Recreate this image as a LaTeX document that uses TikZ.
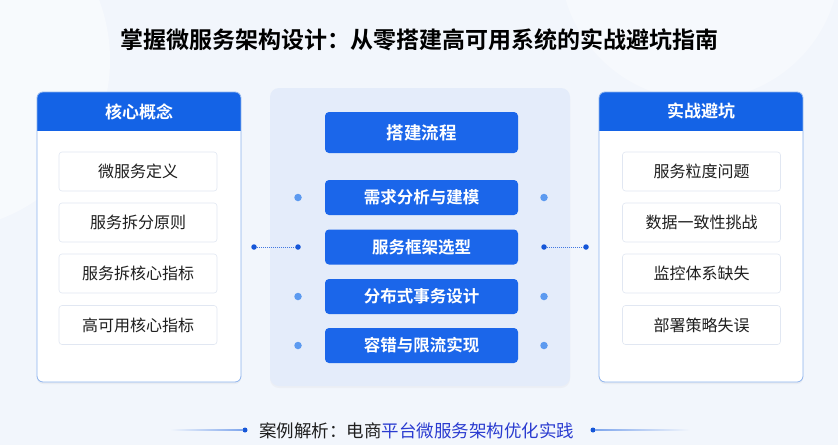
\documentclass[tikz,border=0pt]{standalone}
\usepackage{fontspec}
\setmainfont{Noto Sans CJK SC}[BoldFont={Noto Sans CJK SC Bold}]
\usetikzlibrary{shadows}
\definecolor{bg}{HTML}{F2F6FC}
\definecolor{hblue}{HTML}{1463E6}
\definecolor{sblue}{HTML}{1B66EA}
\definecolor{pborder}{HTML}{8DB3EE}
\definecolor{cpanel}{HTML}{E4ECFA}
\definecolor{ibord}{HTML}{E1E7F2}
\definecolor{dlight}{HTML}{5C9AF0}
\definecolor{ddark}{HTML}{1556D8}
\definecolor{txt}{HTML}{1E1E1E}
\definecolor{casebl}{HTML}{2A3BD0}
\definecolor{lineb}{HTML}{7FA6EC}
\begin{document}
\begin{tikzpicture}[x=1pt,y=-1pt,
  titletext/.style={font=\bfseries\fontsize{23}{23}\selectfont, text=black, inner sep=0pt},
  htext/.style={font=\bfseries\fontsize{17}{17}\selectfont, text=white, inner sep=0pt},
  item/.style={draw=ibord, line width=0.6pt, fill=white, rounded corners=3pt, minimum width=158pt, minimum height=39pt, font=\fontsize{16}{16}\selectfont, text=txt, inner sep=0pt},
  stepbox/.style={fill=sblue, rounded corners=4pt, minimum width=193pt, minimum height=35pt, text=white, font=\bfseries\fontsize{16.5}{16.5}\selectfont, inner sep=0pt},
  headbox/.style={stepbox, minimum height=41pt, font=\bfseries\fontsize{17.5}{17.5}\selectfont},
  dotl/.style={circle, fill=dlight, minimum size=7.5pt, inner sep=0pt},
  dotd/.style={circle, fill=ddark, minimum size=5.5pt, inner sep=0pt},
  dotline/.style={ddark!80, line width=0.6pt, dash pattern=on 1pt off 1pt},
  panelfill/.style={fill=white, rounded corners=6pt, drop shadow={opacity=0.08, shadow xshift=0pt, shadow yshift=-2pt}},
  panelborder/.style={draw=pborder, line width=0.8pt, rounded corners=6pt}
]
% background
\fill[bg] (0,0) rectangle (838,445);
\useasboundingbox (0,0) rectangle (838,445);
\fill[white, opacity=0.45] (-60,60) circle (170pt);
\fill[white, opacity=0.35] (700,-40) circle (140pt);

% title
\node[titletext] (title) at (419,40) {掌握微服务架构设计：从零搭建高可用系统的实战避坑指南};

% left panel
\path[panelfill] (37,92) rectangle (241,382);
\begin{scope}
  \clip[rounded corners=6pt] (37,92) rectangle (241,382);
  \fill[hblue] (37,92) rectangle (241,131);
\end{scope}
\path[panelborder] (37,92) rectangle (241,382);
\node[htext] (Lh) at (139,111.5) {核心概念};
\node[item] (L1) at (138,171.5) {微服务定义};
\node[item] (L2) at (138,222.5) {服务拆分原则};
\node[item] (L3) at (138,273.5) {服务拆核心指标};
\node[item] (L4) at (138,325) {高可用核心指标};

% right panel
\path[panelfill] (599,92) rectangle (803,382);
\begin{scope}
  \clip[rounded corners=6pt] (599,92) rectangle (803,382);
  \fill[hblue] (599,92) rectangle (803,131);
\end{scope}
\path[panelborder] (599,92) rectangle (803,382);
\node[htext] (Rh) at (701,111.5) {实战避坑};
\node[item] (R1) at (701.5,171.5) {服务粒度问题};
\node[item] (R2) at (701.5,222.5) {数据一致性挑战};
\node[item] (R3) at (701.5,273.5) {监控体系缺失};
\node[item] (R4) at (701.5,325) {部署策略失误};

% center panel
\path[fill=cpanel, rounded corners=9pt, drop shadow={opacity=0.05, shadow xshift=0pt, shadow yshift=-2pt}] (270,88) rectangle (570,386);
\node[headbox] (Ch) at (421.5,132.5) {搭建流程};
\node[stepbox] (S1) at (421.5,197.5) {需求分析与建模};
\node[stepbox] (S2) at (421.5,247) {服务框架选型};
\node[stepbox] (S3) at (421.5,296.5) {分布式事务设计};
\node[stepbox] (S4) at (421.5,345.5) {容错与限流实现};

% side dots
\node[dotl] (dl1) at (298,197.5) {};
\node[dotd] (dl2) at (298,247) {};
\node[dotl] (dl3) at (298,296.5) {};
\node[dotl] (dl4) at (298,345.5) {};
\node[dotl] (dr1) at (544,197.5) {};
\node[dotd] (dr2) at (544,247) {};
\node[dotl] (dr3) at (544,296.5) {};
\node[dotl] (dr4) at (544,345.5) {};

% connectors
\node[dotd] (cl) at (254,247) {};
\node[dotd] (cr) at (586,247) {};
\draw[dotline] (cl) -- (dl2);
\draw[dotline] (dr2) -- (cr);

% bottom case line
\node[dotd, minimum size=5pt] (bdl) at (245,430) {};
\node[dotd, minimum size=5pt] (bdr) at (593,430) {};
\shade[left color=bg, right color=lineb] (170,429.5) rectangle (243,430.5);
\shade[left color=lineb, right color=bg] (595,429.5) rectangle (690,430.5);
\node[anchor=west, inner sep=0pt, font=\fontsize{17.5}{17.5}\selectfont, text=txt] (case) at (259,431) {案例解析：电商\textcolor{casebl}{平台微服务架构优化实践}};
\end{tikzpicture}
\end{document}
